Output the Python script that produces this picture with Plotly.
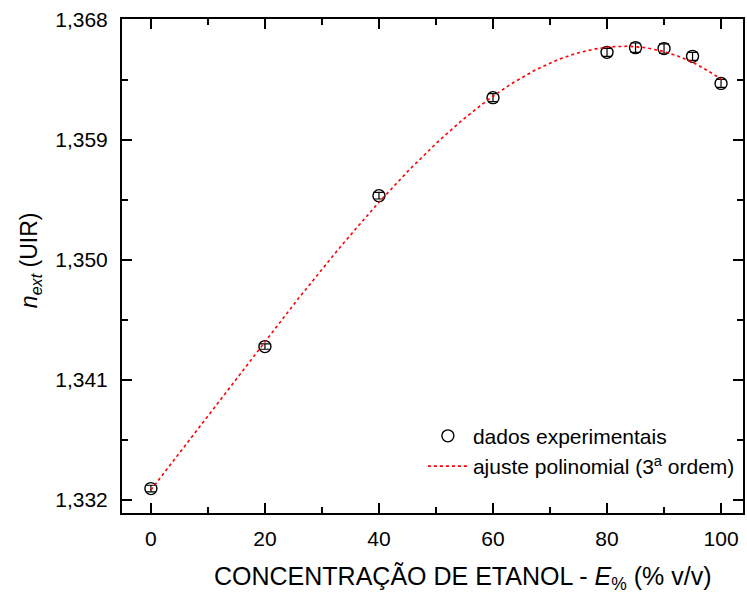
import numpy as np
import plotly.graph_objects as go

# Ethanol concentration (% v/v) and measured external refractive index
concentracao = [0, 20, 40, 60, 80, 85, 90, 95, 100]
n_ext = [1.33283, 1.34348, 1.35480, 1.36215, 1.36555, 1.36590, 1.36583, 1.36525, 1.36322]
erro = [0.00025, 0.00020, 0.00025, 0.00030, 0.00030, 0.00035, 0.00035, 0.00030, 0.00030]

y_ticks = [1.332, 1.341, 1.350, 1.359, 1.368]
x_ticks = [0, 20, 40, 60, 80, 100]

# third-order polynomial fit of the measured points
coef = np.polyfit(concentracao, n_ext, 3)
x_fit = np.linspace(0, 100, 201)
y_fit = np.polyval(coef, x_fit)

FONT = "Liberation Sans, Arial, sans-serif"

fig = go.Figure()
fig.add_trace(go.Scatter(
    x=concentracao, y=n_ext, mode="markers",
    name="dados experimentais",
    marker=dict(symbol="circle-open", size=12, color="black", line=dict(width=1.4)),
    error_y=dict(type="data", array=erro, visible=True, color="black", thickness=1.2, width=5),
))
fig.add_trace(go.Scatter(
    x=x_fit, y=y_fit, mode="lines",
    name="ajuste polinomial (3<sup>a</sup> ordem)",
    line=dict(color="red", dash="dot", width=1.6),
))

axis_common = dict(
    showline=True, linecolor="black", linewidth=2, mirror="allticks",
    ticks="inside", ticklen=10, tickwidth=2, tickcolor="black",
    showgrid=False, zeroline=False,
    tickfont=dict(family=FONT, size=21, color="black"),
)

fig.update_xaxes(
    range=[-5.07, 103.85], tickvals=x_ticks,
    minor=dict(ticks="inside", ticklen=6, tickwidth=2, tickcolor="black", dtick=10, tick0=0, showgrid=False),
    ticklabelstandoff=6,
    **axis_common,
)
fig.update_yaxes(
    range=[1.33100, 1.36805], tickvals=y_ticks, tickformat=".3f",
    minor=dict(ticks="inside", ticklen=6, tickwidth=2, tickcolor="black", dtick=0.0045, tick0=1.332, showgrid=False),
    ticklabelstandoff=8,
    **axis_common,
)

fig.update_layout(
    width=747, height=593,
    margin=dict(l=122, r=2, t=19, b=80),
    paper_bgcolor="white", plot_bgcolor="white",
    separators=",.",
    font=dict(family=FONT, color="black"),
    showlegend=True,
    legend=dict(
        x=0.995, y=0.197, xanchor="right", yanchor="top",
        bgcolor="rgba(0,0,0,0)", font=dict(family=FONT, size=21, color="black"),
        tracegroupgap=0, itemwidth=40,
    ),
    annotations=[
        dict(text="CONCENTRAÇÃO DE ETANOL - <i>E</i><sub>%</sub> (% v/v)",
             xref="paper", yref="paper", x=0.549, y=-0.131, xanchor="center", yanchor="middle",
             showarrow=False, font=dict(family=FONT, size=25, color="black")),
        dict(text="<i>n</i><sub><i>ext</i></sub> (UIR)",
             xref="paper", yref="paper", x=-0.148, y=0.512, xanchor="center", yanchor="middle",
             textangle=-90, showarrow=False, font=dict(family=FONT, size=23, color="black")),
    ],
)

fig.write_html("out.html")
